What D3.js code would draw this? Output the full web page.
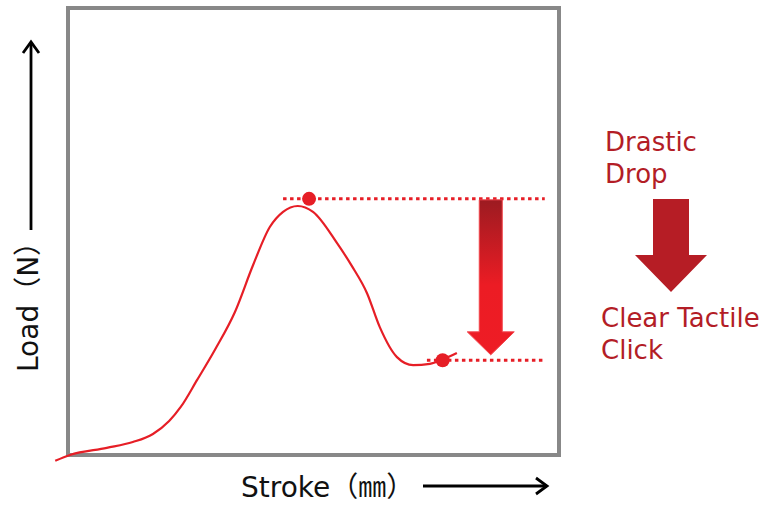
<!DOCTYPE html>
<html>
<head>
<meta charset="utf-8">
<script src="https://cdn.jsdelivr.net/npm/d3@7"></script>
<style>
  body { margin: 0; background: #fff; }
  svg { display: block; }
</style>
</head>
<body>
<div id="chart"></div>
<script>
// curve (stroke, load) in 0-100 units of the frame
const stroke = [-2.6, 0.4, 7.9, 13.2, 17.3, 20.6, 23.0, 26.3, 29.9, 34.0, 37.7, 41.1, 43.8, 46.8, 49.9, 54.8, 57.8, 60.9, 63.5, 67.0, 70.3, 73.7, 76.2, 79.2];
const load   = [-1.3, 0.0, 1.6, 2.9, 4.7, 7.6, 10.8, 16.8, 23.5, 32.0, 42.5, 51.0, 54.4, 55.7, 54.4, 47.4, 42.3, 36.2, 28.6, 21.9, 20.1, 20.4, 21.3, 22.8];

// peak and click points, with the extent of their dotted guides
const markers = [
  {name: 'peak',  x: 49.1, y: 57.3, from: 43.8, to: 97.1},
  {name: 'click', x: 76.3, y: 21.2, from: 73.1, to: 97.1}
];
const dropX = 86.1;
const dropTo = 22.4;

const labels = {x: 'Stroke（㎜）', y: 'Load（N）'};
const noteTop = ['Drastic', 'Drop'];
const noteBottom = ['Clear Tactile', 'Click'];

const W = 778, H = 506;
const box = {left: 68, right: 559, top: 8, bottom: 455};
const red = '#e61e26', dark = '#b31d26';

const x = d3.scaleLinear().domain([0, 100]).range([box.left, box.right]);
const y = d3.scaleLinear().domain([0, 100]).range([box.bottom, box.top]);

const svg = d3.select('#chart').append('svg')
  .attr('width', W).attr('height', H);

const defs = svg.append('defs');
const grad = defs.append('linearGradient')
  .attr('id', 'dropGrad').attr('x1', 0).attr('y1', 0).attr('x2', 0).attr('y2', 1);
grad.append('stop').attr('offset', '0%').attr('stop-color', '#9c1b21');
grad.append('stop').attr('offset', '55%').attr('stop-color', '#ec1c24');
grad.append('stop').attr('offset', '100%').attr('stop-color', '#ee1c25');

// frame
svg.append('rect')
  .attr('x', box.left).attr('y', box.top)
  .attr('width', box.right - box.left).attr('height', box.bottom - box.top)
  .attr('fill', 'none').attr('stroke', '#888').attr('stroke-width', 4);

// dotted guides
svg.selectAll('.guide').data(markers).enter().append('line')
  .attr('class', 'guide')
  .attr('x1', d => x(d.from)).attr('x2', d => x(d.to))
  .attr('y1', d => y(d.y)).attr('y2', d => y(d.y))
  .attr('stroke', red).attr('stroke-width', 3)
  .attr('stroke-dasharray', '3.5,3.5');

// load curve
const pts = stroke.map((s, i) => [s, load[i]]);
const line = d3.line()
  .x(d => x(d[0])).y(d => y(d[1]))
  .curve(d3.curveMonotoneX);
svg.append('path')
  .datum(pts)
  .attr('d', line)
  .attr('fill', 'none').attr('stroke', red).attr('stroke-width', 2.2);

svg.selectAll('.dot').data(markers).enter().append('circle')
  .attr('class', 'dot')
  .attr('cx', d => x(d.x)).attr('cy', d => y(d.y)).attr('r', 7)
  .attr('fill', red);

// big drop arrow between peak and click
function downArrow(cx, top, tip, shaftW, headW, headH) {
  const p = d3.path();
  p.moveTo(cx - shaftW / 2, top);
  p.lineTo(cx + shaftW / 2, top);
  p.lineTo(cx + shaftW / 2, tip - headH);
  p.lineTo(cx + headW / 2, tip - headH);
  p.lineTo(cx, tip);
  p.lineTo(cx - headW / 2, tip - headH);
  p.lineTo(cx - shaftW / 2, tip - headH);
  p.closePath();
  return p.toString();
}
svg.append('path')
  .attr('d', downArrow(x(dropX), y(markers[0].y) + 1, y(dropTo), 23, 47, 23))
  .attr('fill', 'url(#dropGrad)')
  .attr('stroke', '#f2444b').attr('stroke-width', 1);

// side note
const note = svg.append('g').attr('fill', dark)
  .style('font-family', '"DejaVu Sans", Verdana, sans-serif')
  .style('font-size', '26px');
note.selectAll('.t1').data(noteTop).enter().append('text')
  .attr('x', 605).attr('y', (d, i) => 151 + i * 32).text(d => d);
note.selectAll('.t2').data(noteBottom).enter().append('text')
  .attr('x', 601).attr('y', (d, i) => 327 + i * 32).text(d => d);
svg.append('path')
  .attr('d', downArrow(671, 199, 292, 36, 72, 37))
  .attr('fill', '#b61d25');

// axis titles with arrows
const axisFont = '"DejaVu Sans", "Noto Sans CJK JP", sans-serif';
svg.append('text')
  .attr('x', 241).attr('y', 497)
  .style('font-family', axisFont).style('font-size', '28px')
  .attr('fill', '#111')
  .text(labels.x);
svg.append('text')
  .attr('transform', 'translate(38,372) rotate(-90)')
  .style('font-family', axisFont).style('font-size', '28px')
  .attr('fill', '#111')
  .text(labels.y);

const ax = svg.append('g').attr('stroke', '#000').attr('stroke-width', 2.8)
  .attr('fill', 'none').attr('stroke-linecap', 'butt');
ax.append('line').attr('x1', 423).attr('x2', 547).attr('y1', 486).attr('y2', 486);
ax.append('path').attr('d', 'M536,478 L547,486 L536,494').attr('stroke-linejoin', 'miter');
ax.append('line').attr('x1', 31).attr('x2', 31).attr('y1', 230).attr('y2', 42);
ax.append('path').attr('d', 'M23,53 L31,42 L39,53').attr('stroke-linejoin', 'miter');
</script>
</body>
</html>
